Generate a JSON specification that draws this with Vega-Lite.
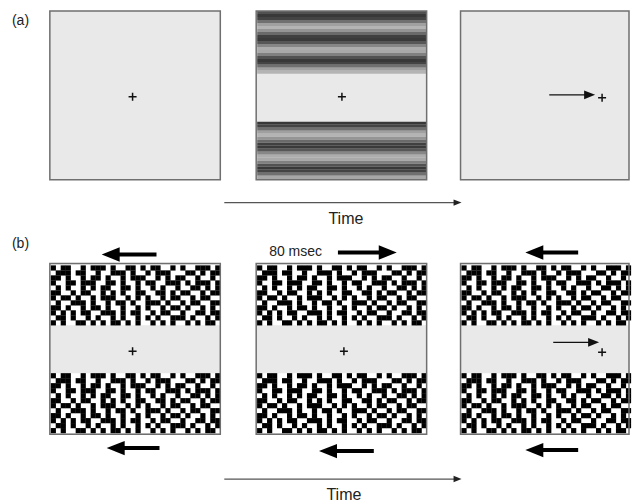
{
  "$schema": "https://vega.github.io/schema/vega-lite/v6.json",
  "width": 632,
  "height": 503,
  "autosize": {"type": "fit", "contains": "padding"},
  "padding": 0,
  "background": "white",
  "config": {
    "view": {"stroke": null},
    "axis": {"disable": true},
    "legend": {"disable": true},
    "font": "Liberation Sans"
  },
  "datasets": {
    "panels": [
      {"id": "a1", "x": 50, "x2": 221, "y": 11, "y2": 180},
      {"id": "a2", "x": 257, "x2": 428, "y": 11, "y2": 180},
      {"id": "a3", "x": 462, "x2": 631, "y": 11, "y2": 180},
      {"id": "b1", "x": 50, "x2": 221, "y": 264, "y2": 435},
      {"id": "b2", "x": 257, "x2": 428, "y": 264, "y2": 435},
      {"id": "b3", "x": 462, "x2": 631, "y": 264, "y2": 435}
    ],
    "bands": [
      {"x": 50, "x2": 221, "y": 265, "y2": 326},
      {"x": 50, "x2": 221, "y": 374, "y2": 434},
      {"x": 257, "x2": 428, "y": 265, "y2": 326},
      {"x": 257, "x2": 428, "y": 374, "y2": 434},
      {"x": 462, "x2": 631, "y": 265, "y2": 326},
      {"x": 462, "x2": 631, "y": 374, "y2": 434}
    ],
    "grating": [
      {"x": 258, "x2": 428, "y": 11, "y2": 14, "g": 0.22},
      {"x": 258, "x2": 428, "y": 14, "y2": 17, "g": 0},
      {"x": 258, "x2": 428, "y": 17, "y2": 20, "g": 0.11},
      {"x": 258, "x2": 428, "y": 20, "y2": 23, "g": 0.48},
      {"x": 258, "x2": 428, "y": 23, "y2": 26, "g": 0.85},
      {"x": 258, "x2": 428, "y": 26, "y2": 29, "g": 1},
      {"x": 258, "x2": 428, "y": 29, "y2": 32, "g": 0.77},
      {"x": 258, "x2": 428, "y": 32, "y2": 35, "g": 0.43},
      {"x": 258, "x2": 428, "y": 35, "y2": 38, "g": 0.07},
      {"x": 258, "x2": 428, "y": 38, "y2": 41, "g": 0.02},
      {"x": 258, "x2": 428, "y": 41, "y2": 44, "g": 0.27},
      {"x": 258, "x2": 428, "y": 44, "y2": 47, "g": 0.66},
      {"x": 258, "x2": 428, "y": 47, "y2": 50, "g": 0.95},
      {"x": 258, "x2": 428, "y": 50, "y2": 53, "g": 0.92},
      {"x": 258, "x2": 428, "y": 53, "y2": 56, "g": 0.6},
      {"x": 258, "x2": 428, "y": 56, "y2": 59, "g": 0.22},
      {"x": 258, "x2": 428, "y": 59, "y2": 62, "g": 0},
      {"x": 258, "x2": 428, "y": 62, "y2": 65, "g": 0.11},
      {"x": 258, "x2": 428, "y": 65, "y2": 68, "g": 0.48},
      {"x": 258, "x2": 428, "y": 68, "y2": 71, "g": 0.85},
      {"x": 258, "x2": 428, "y": 71, "y2": 74, "g": 1},
      {"x": 258, "x2": 428, "y": 122, "y2": 125, "g": 0},
      {"x": 258, "x2": 428, "y": 125, "y2": 128, "g": 0.11},
      {"x": 258, "x2": 428, "y": 128, "y2": 131, "g": 0.48},
      {"x": 258, "x2": 428, "y": 131, "y2": 134, "g": 0.85},
      {"x": 258, "x2": 428, "y": 134, "y2": 137, "g": 1},
      {"x": 258, "x2": 428, "y": 137, "y2": 140, "g": 0.77},
      {"x": 258, "x2": 428, "y": 140, "y2": 143, "g": 0.43},
      {"x": 258, "x2": 428, "y": 143, "y2": 146, "g": 0.07},
      {"x": 258, "x2": 428, "y": 146, "y2": 149, "g": 0.02},
      {"x": 258, "x2": 428, "y": 149, "y2": 152, "g": 0.27},
      {"x": 258, "x2": 428, "y": 152, "y2": 155, "g": 0.66},
      {"x": 258, "x2": 428, "y": 155, "y2": 158, "g": 0.95},
      {"x": 258, "x2": 428, "y": 158, "y2": 161, "g": 0.92},
      {"x": 258, "x2": 428, "y": 161, "y2": 164, "g": 0.6},
      {"x": 258, "x2": 428, "y": 164, "y2": 167, "g": 0.22},
      {"x": 258, "x2": 428, "y": 167, "y2": 170, "g": 0},
      {"x": 258, "x2": 428, "y": 170, "y2": 173, "g": 0.11},
      {"x": 258, "x2": 428, "y": 173, "y2": 176, "g": 0.48},
      {"x": 258, "x2": 428, "y": 176, "y2": 180, "g": 0.9}
    ],
    "noise": [
      {"c":0,"r":0},{"c":2,"r":0},{"c":3,"r":0},{"c":6,"r":0},{"c":8,"r":0},{"c":9,"r":0},{"c":10,"r":0},{"c":12,"r":0},{"c":15,"r":0},{"c":16,"r":0},{"c":18,"r":0},{"c":20,"r":0},{"c":21,"r":0},{"c":24,"r":0},{"c":26,"r":0},{"c":29,"r":0},{"c":30,"r":0},{"c":31,"r":0},{"c":33,"r":0},
      {"c":1,"r":1},{"c":2,"r":1},{"c":3,"r":1},{"c":5,"r":1},{"c":6,"r":1},{"c":9,"r":1},{"c":12,"r":1},{"c":13,"r":1},{"c":14,"r":1},{"c":16,"r":1},{"c":19,"r":1},{"c":21,"r":1},{"c":22,"r":1},{"c":23,"r":1},{"c":27,"r":1},{"c":28,"r":1},{"c":30,"r":1},{"c":32,"r":1},{"c":33,"r":1},
      {"c":0,"r":2},{"c":1,"r":2},{"c":3,"r":2},{"c":6,"r":2},{"c":8,"r":2},{"c":9,"r":2},{"c":11,"r":2},{"c":14,"r":2},{"c":16,"r":2},{"c":17,"r":2},{"c":18,"r":2},{"c":21,"r":2},{"c":23,"r":2},{"c":25,"r":2},{"c":26,"r":2},{"c":29,"r":2},{"c":32,"r":2},
      {"c":0,"r":3},{"c":3,"r":3},{"c":4,"r":3},{"c":6,"r":3},{"c":7,"r":3},{"c":8,"r":3},{"c":11,"r":3},{"c":12,"r":3},{"c":14,"r":3},{"c":17,"r":3},{"c":19,"r":3},{"c":20,"r":3},{"c":23,"r":3},{"c":24,"r":3},{"c":25,"r":3},{"c":27,"r":3},{"c":29,"r":3},{"c":30,"r":3},{"c":31,"r":3},{"c":33,"r":3},
      {"c":1,"r":4},{"c":3,"r":4},{"c":6,"r":4},{"c":8,"r":4},{"c":10,"r":4},{"c":11,"r":4},{"c":14,"r":4},{"c":15,"r":4},{"c":17,"r":4},{"c":20,"r":4},{"c":22,"r":4},{"c":25,"r":4},{"c":28,"r":4},{"c":29,"r":4},{"c":31,"r":4},{"c":33,"r":4},
      {"c":0,"r":5},{"c":1,"r":5},{"c":4,"r":5},{"c":6,"r":5},{"c":7,"r":5},{"c":10,"r":5},{"c":12,"r":5},{"c":14,"r":5},{"c":17,"r":5},{"c":18,"r":5},{"c":21,"r":5},{"c":22,"r":5},{"c":24,"r":5},{"c":26,"r":5},{"c":27,"r":5},{"c":30,"r":5},{"c":32,"r":5},{"c":33,"r":5},
      {"c":0,"r":6},{"c":2,"r":6},{"c":3,"r":6},{"c":5,"r":6},{"c":8,"r":6},{"c":10,"r":6},{"c":11,"r":6},{"c":12,"r":6},{"c":15,"r":6},{"c":17,"r":6},{"c":19,"r":6},{"c":22,"r":6},{"c":24,"r":6},{"c":25,"r":6},{"c":28,"r":6},{"c":30,"r":6},{"c":31,"r":6},
      {"c":1,"r":7},{"c":4,"r":7},{"c":5,"r":7},{"c":6,"r":7},{"c":8,"r":7},{"c":11,"r":7},{"c":13,"r":7},{"c":14,"r":7},{"c":16,"r":7},{"c":19,"r":7},{"c":20,"r":7},{"c":21,"r":7},{"c":23,"r":7},{"c":26,"r":7},{"c":28,"r":7},{"c":29,"r":7},{"c":32,"r":7},{"c":33,"r":7},
      {"c":0,"r":8},{"c":1,"r":8},{"c":3,"r":8},{"c":6,"r":8},{"c":8,"r":8},{"c":9,"r":8},{"c":11,"r":8},{"c":14,"r":8},{"c":17,"r":8},{"c":19,"r":8},{"c":22,"r":8},{"c":24,"r":8},{"c":25,"r":8},{"c":27,"r":8},{"c":30,"r":8},{"c":32,"r":8},
      {"c":0,"r":9},{"c":2,"r":9},{"c":4,"r":9},{"c":6,"r":9},{"c":7,"r":9},{"c":10,"r":9},{"c":11,"r":9},{"c":12,"r":9},{"c":14,"r":9},{"c":16,"r":9},{"c":17,"r":9},{"c":20,"r":9},{"c":22,"r":9},{"c":23,"r":9},{"c":26,"r":9},{"c":29,"r":9},{"c":30,"r":9},{"c":32,"r":9},{"c":33,"r":9},
      {"c":1,"r":10},{"c":2,"r":10},{"c":4,"r":10},{"c":7,"r":10},{"c":9,"r":10},{"c":12,"r":10},{"c":14,"r":10},{"c":17,"r":10},{"c":19,"r":10},{"c":21,"r":10},{"c":24,"r":10},{"c":25,"r":10},{"c":26,"r":10},{"c":28,"r":10},{"c":31,"r":10},{"c":33,"r":10},
      {"c":0,"r":11},{"c":2,"r":11},{"c":5,"r":11},{"c":6,"r":11},{"c":8,"r":11},{"c":10,"r":11},{"c":12,"r":11},{"c":13,"r":11},{"c":15,"r":11},{"c":17,"r":11},{"c":20,"r":11},{"c":22,"r":11},{"c":24,"r":11},{"c":27,"r":11},{"c":29,"r":11},{"c":31,"r":11},{"c":32,"r":11}
    ],
    "pluses": [
      {"x": 133, "y": 97}, {"x": 343, "y": 97}, {"x": 604, "y": 98},
      {"x": 133, "y": 352}, {"x": 345, "y": 352}, {"x": 604, "y": 353}
    ],
    "thick": [
      {"tail": 157, "neck": 111, "tip": 102, "y": 255, "dir": "left"},
      {"tail": 339, "neck": 389, "tip": 398, "y": 253, "dir": "right"},
      {"tail": 580, "neck": 536, "tip": 527, "y": 253, "dir": "left"},
      {"tail": 160, "neck": 116, "tip": 107, "y": 449, "dir": "left"},
      {"tail": 375, "neck": 329, "tip": 320, "y": 452, "dir": "left"},
      {"tail": 580, "neck": 536, "tip": 527, "y": 451, "dir": "left"}
    ],
    "thin": [
      {"tail": 551, "neck": 591, "tip": 597, "y": 95, "dir": "right"},
      {"tail": 555, "neck": 595, "tip": 601, "y": 343, "dir": "right"}
    ],
    "time": [
      {"tail": 225, "neck": 459, "tip": 463, "y": 203, "dir": "right"},
      {"tail": 225, "neck": 459, "tip": 463, "y": 480, "dir": "right"}
    ],
    "leftText": [
      {"x": 12, "y": 21, "t": "(a)"},
      {"x": 12, "y": 244, "t": "(b)"},
      {"x": 270, "y": 253, "t": "80 msec"}
    ],
    "timeText": [
      {"x": 347, "y": 224, "t": "Time"},
      {"x": 345, "y": 501, "t": "Time"}
    ]
  },
  "layer": [
    {
      "layer": [
        {
          "data": {"name": "panels"},
          "mark": {"type": "rect", "fill": "#e9e9e9", "strokeWidth": 0},
          "encoding": {
            "x": {"field": "x", "type": "quantitative", "scale": {"domain": [0, 632], "nice": false, "zero": false}},
            "x2": {"field": "x2"},
            "y": {"field": "y", "type": "quantitative", "scale": {"domain": [0, 503], "nice": false, "zero": false, "reverse": true}},
            "y2": {"field": "y2"}
          }
        },
        {
          "data": {"name": "bands"},
          "mark": {"type": "rect", "fill": "#ffffff", "strokeWidth": 0},
          "encoding": {
            "x": {"field": "x", "type": "quantitative", "scale": {"domain": [0, 632], "nice": false, "zero": false}},
            "x2": {"field": "x2"},
            "y": {"field": "y", "type": "quantitative", "scale": {"domain": [0, 503], "nice": false, "zero": false, "reverse": true}},
            "y2": {"field": "y2"}
          }
        },
        {
          "data": {"name": "grating"},
          "mark": {"type": "rect", "strokeWidth": 0},
          "encoding": {
            "x": {"field": "x", "type": "quantitative", "scale": {"domain": [0, 632], "nice": false, "zero": false}},
            "x2": {"field": "x2"},
            "y": {"field": "y", "type": "quantitative", "scale": {"domain": [0, 503], "nice": false, "zero": false, "reverse": true}},
            "y2": {"field": "y2"},
            "color": {"field": "g", "type": "quantitative", "scale": {"domain": [0, 1], "range": ["#383838", "#b4b4b4"]}, "legend": null}
          }
        }
      ]
    },
    {
      "data": {"name": "noise"},
      "mark": {"type": "square", "size": 27, "color": "#000000", "opacity": 1, "strokeWidth": 0},
      "encoding": {
        "x": {"field": "c", "type": "quantitative", "scale": {"domain": [-10.7, 115.7], "nice": false, "zero": false}},
        "y": {"field": "r", "type": "quantitative", "scale": {"domain": [-53.7, 46.9], "nice": false, "zero": false, "reverse": true}}
      }
    },
    {
      "data": {"name": "noise"},
      "mark": {"type": "square", "size": 27, "color": "#000000", "opacity": 1, "strokeWidth": 0},
      "encoding": {
        "x": {"field": "c", "type": "quantitative", "scale": {"domain": [-10.7, 115.7], "nice": false, "zero": false}},
        "y": {"field": "r", "type": "quantitative", "scale": {"domain": [-75.3, 25.3], "nice": false, "zero": false, "reverse": true}}
      }
    },
    {
      "data": {"name": "noise"},
      "mark": {"type": "square", "size": 27, "color": "#000000", "opacity": 1, "strokeWidth": 0},
      "encoding": {
        "x": {"field": "c", "type": "quantitative", "scale": {"domain": [-52.1, 74.3], "nice": false, "zero": false}},
        "y": {"field": "r", "type": "quantitative", "scale": {"domain": [-53.7, 46.9], "nice": false, "zero": false, "reverse": true}}
      }
    },
    {
      "data": {"name": "noise"},
      "mark": {"type": "square", "size": 27, "color": "#000000", "opacity": 1, "strokeWidth": 0},
      "encoding": {
        "x": {"field": "c", "type": "quantitative", "scale": {"domain": [-52.1, 74.3], "nice": false, "zero": false}},
        "y": {"field": "r", "type": "quantitative", "scale": {"domain": [-75.3, 25.3], "nice": false, "zero": false, "reverse": true}}
      }
    },
    {
      "data": {"name": "noise"},
      "mark": {"type": "square", "size": 27, "color": "#000000", "opacity": 1, "strokeWidth": 0},
      "encoding": {
        "x": {"field": "c", "type": "quantitative", "scale": {"domain": [-93.1, 33.3], "nice": false, "zero": false}},
        "y": {"field": "r", "type": "quantitative", "scale": {"domain": [-53.7, 46.9], "nice": false, "zero": false, "reverse": true}}
      }
    },
    {
      "data": {"name": "noise"},
      "mark": {"type": "square", "size": 27, "color": "#000000", "opacity": 1, "strokeWidth": 0},
      "encoding": {
        "x": {"field": "c", "type": "quantitative", "scale": {"domain": [-93.1, 33.3], "nice": false, "zero": false}},
        "y": {"field": "r", "type": "quantitative", "scale": {"domain": [-75.3, 25.3], "nice": false, "zero": false, "reverse": true}}
      }
    },
    {
      "layer": [
        {
          "data": {"name": "panels"},
          "mark": {"type": "rect", "fillOpacity": 0, "stroke": "#6f6f6f", "strokeWidth": 1.5},
          "encoding": {
            "x": {"field": "x", "type": "quantitative", "scale": {"domain": [0, 632], "nice": false, "zero": false}},
            "x2": {"field": "x2"},
            "y": {"field": "y", "type": "quantitative", "scale": {"domain": [0, 503], "nice": false, "zero": false, "reverse": true}},
            "y2": {"field": "y2"}
          }
        },
        {
          "data": {"name": "pluses"},
          "mark": {"type": "point", "shape": "M-1,0H1M0,-1V1", "size": 64, "filled": false, "stroke": "#111111", "strokeWidth": 1.5, "opacity": 1},
          "encoding": {
            "x": {"field": "x", "type": "quantitative", "scale": {"domain": [0, 632], "nice": false, "zero": false}},
            "y": {"field": "y", "type": "quantitative", "scale": {"domain": [0, 503], "nice": false, "zero": false, "reverse": true}}
          }
        },
        {
          "data": {"name": "thick"},
          "mark": {"type": "rule", "color": "#000000", "strokeWidth": 4, "strokeCap": "butt"},
          "encoding": {
            "x": {"field": "tail", "type": "quantitative", "scale": {"domain": [0, 632], "nice": false, "zero": false}},
            "x2": {"field": "neck"},
            "y": {"field": "y", "type": "quantitative", "scale": {"domain": [0, 503], "nice": false, "zero": false, "reverse": true}}
          }
        },
        {
          "data": {"name": "thick"},
          "mark": {"type": "point", "size": 324, "filled": true, "color": "#000000", "opacity": 1, "strokeWidth": 0},
          "encoding": {
            "x": {"field": "tip", "type": "quantitative", "scale": {"domain": [0, 632], "nice": false, "zero": false}},
            "y": {"field": "y", "type": "quantitative", "scale": {"domain": [0, 503], "nice": false, "zero": false, "reverse": true}},
            "shape": {"field": "dir", "type": "nominal", "scale": {"domain": ["right", "left"], "range": ["M0,0L-2,-0.8L-2,0.8Z", "M0,0L2,-0.8L2,0.8Z"]}, "legend": null}
          }
        },
        {
          "data": {"name": "thin"},
          "mark": {"type": "rule", "color": "#111111", "strokeWidth": 1.3},
          "encoding": {
            "x": {"field": "tail", "type": "quantitative", "scale": {"domain": [0, 632], "nice": false, "zero": false}},
            "x2": {"field": "neck"},
            "y": {"field": "y", "type": "quantitative", "scale": {"domain": [0, 503], "nice": false, "zero": false, "reverse": true}}
          }
        },
        {
          "data": {"name": "thin"},
          "mark": {"type": "point", "size": 121, "filled": true, "color": "#111111", "opacity": 1, "strokeWidth": 0},
          "encoding": {
            "x": {"field": "tip", "type": "quantitative", "scale": {"domain": [0, 632], "nice": false, "zero": false}},
            "y": {"field": "y", "type": "quantitative", "scale": {"domain": [0, 503], "nice": false, "zero": false, "reverse": true}},
            "shape": {"field": "dir", "type": "nominal", "scale": {"domain": ["right", "left"], "range": ["M0,0L-2,-0.8L-2,0.8Z", "M0,0L2,-0.8L2,0.8Z"]}, "legend": null}
          }
        },
        {
          "data": {"name": "time"},
          "mark": {"type": "rule", "color": "#555555", "strokeWidth": 1.2},
          "encoding": {
            "x": {"field": "tail", "type": "quantitative", "scale": {"domain": [0, 632], "nice": false, "zero": false}},
            "x2": {"field": "neck"},
            "y": {"field": "y", "type": "quantitative", "scale": {"domain": [0, 503], "nice": false, "zero": false, "reverse": true}}
          }
        },
        {
          "data": {"name": "time"},
          "mark": {"type": "point", "size": 64, "filled": true, "color": "#222222", "opacity": 1, "strokeWidth": 0},
          "encoding": {
            "x": {"field": "tip", "type": "quantitative", "scale": {"domain": [0, 632], "nice": false, "zero": false}},
            "y": {"field": "y", "type": "quantitative", "scale": {"domain": [0, 503], "nice": false, "zero": false, "reverse": true}},
            "shape": {"field": "dir", "type": "nominal", "scale": {"domain": ["right", "left"], "range": ["M0,0L-2,-0.8L-2,0.8Z", "M0,0L2,-0.8L2,0.8Z"]}, "legend": null}
          }
        },
        {
          "data": {"name": "leftText"},
          "mark": {"type": "text", "align": "left", "baseline": "middle", "fontSize": 14, "font": "Liberation Sans", "color": "#222222"},
          "encoding": {
            "x": {"field": "x", "type": "quantitative", "scale": {"domain": [0, 632], "nice": false, "zero": false}},
            "y": {"field": "y", "type": "quantitative", "scale": {"domain": [0, 503], "nice": false, "zero": false, "reverse": true}},
            "text": {"field": "t"}
          }
        },
        {
          "data": {"name": "timeText"},
          "mark": {"type": "text", "align": "center", "baseline": "alphabetic", "fontSize": 16, "font": "Liberation Sans", "color": "#222222"},
          "encoding": {
            "x": {"field": "x", "type": "quantitative", "scale": {"domain": [0, 632], "nice": false, "zero": false}},
            "y": {"field": "y", "type": "quantitative", "scale": {"domain": [0, 503], "nice": false, "zero": false, "reverse": true}},
            "text": {"field": "t"}
          }
        }
      ]
    }
  ],
  "resolve": {"scale": {"x": "independent", "y": "independent"}}
}
